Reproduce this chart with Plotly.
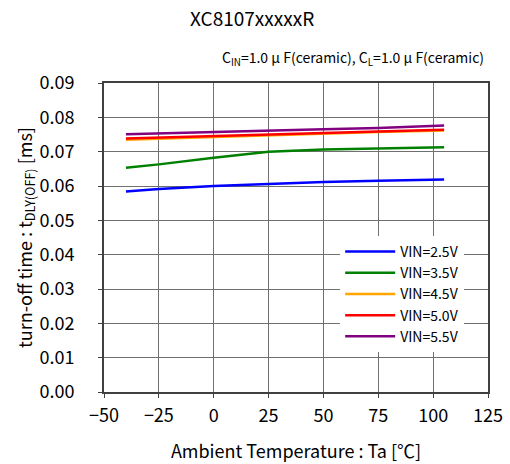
import plotly.graph_objects as go

temps = [-40, -25, 0, 25, 50, 75, 100, 105]
vin_25 = [0.0584, 0.0591, 0.0600, 0.0607, 0.0612, 0.0615, 0.0618, 0.0619]
vin_35 = [0.0653, 0.0663, 0.0682, 0.0700, 0.0706, 0.0709, 0.0711, 0.0713]
vin_45 = [0.0735, 0.0738, 0.0744, 0.0749, 0.0753, 0.0757, 0.0761, 0.0762]
vin_50 = [0.0738, 0.0741, 0.0746, 0.0751, 0.0755, 0.0759, 0.0763, 0.0764]
vin_55 = [0.0751, 0.0753, 0.0757, 0.0761, 0.0765, 0.0769, 0.0774, 0.0776]

series = [
    ("VIN=2.5V", vin_25, "#0000FF"),
    ("VIN=3.5V", vin_35, "#008000"),
    ("VIN=4.5V", vin_45, "#FFA500"),
    ("VIN=5.0V", vin_50, "#FF0000"),
    ("VIN=5.5V", vin_55, "#800080"),
]

font = "Noto Sans CJK JP, Liberation Sans, sans-serif"
fig = go.Figure()
for name, vals, col in series:
    fig.add_trace(go.Scatter(x=temps, y=vals, mode="lines", name=name,
                             line=dict(color=col, width=2.5)))

fig.update_layout(
    width=510, height=464,
    margin=dict(l=104, r=22, t=83, b=72, autoexpand=False),
    paper_bgcolor="white", plot_bgcolor="white",
    font=dict(family=font, color="black"),
    showlegend=True,
    legend=dict(x=0.615, y=0.505, xanchor="left", yanchor="top",
                bgcolor="white", borderwidth=0, font=dict(size=14, family=font),
                tracegroupgap=0, itemwidth=50),
    annotations=[
        dict(text="C<sub>IN</sub>=1.0 μ F(ceramic), C<sub>L</sub>=1.0 μ F(ceramic)",
             x=1, y=1, xref="paper", yref="paper", xanchor="right", yanchor="bottom",
             xshift=-2, yshift=12, showarrow=False, font=dict(size=14)),
        dict(text="XC8107xxxxxR", x=0.385, y=1, xref="paper", yref="paper",
             xanchor="center", yanchor="bottom", yshift=50, showarrow=False,
             font=dict(size=19)),
    ],
)

fig.update_xaxes(range=[-50, 125], dtick=25, tick0=-50, automargin=False,
                 showgrid=True, gridcolor="#707070", gridwidth=1,
                 showline=True, linecolor="#404040", linewidth=2, mirror=True,
                 ticks="outside", ticklen=4, tickcolor="#404040",
                 tickfont=dict(size=18), zeroline=False, ticklabelstandoff=2,
                 title=dict(text="Ambient Temperature : Ta [℃]", font=dict(size=18), standoff=20))
fig.update_yaxes(range=[0, 0.09], dtick=0.01, tickformat=".2f", automargin=False,
                 showgrid=True, gridcolor="#707070", gridwidth=1,
                 showline=True, linecolor="#404040", linewidth=2, mirror=True,
                 ticks="outside", ticklen=4, tickcolor="#404040",
                 tickfont=dict(size=18), zeroline=False, ticklabelstandoff=20,
                 title=dict(text="turn-off time : t<sub>DLY(OFF)</sub> [ms]", font=dict(size=18), standoff=1))

fig.write_html(
    "out.html",
    config={"displayModeBar": False},
    post_script=(
        "document.documentElement.style.overflow='hidden';"
        "document.body.style.margin='0';"
        "document.body.style.overflow='hidden';"
        "document.body.style.height='464px';"
    ),
)
